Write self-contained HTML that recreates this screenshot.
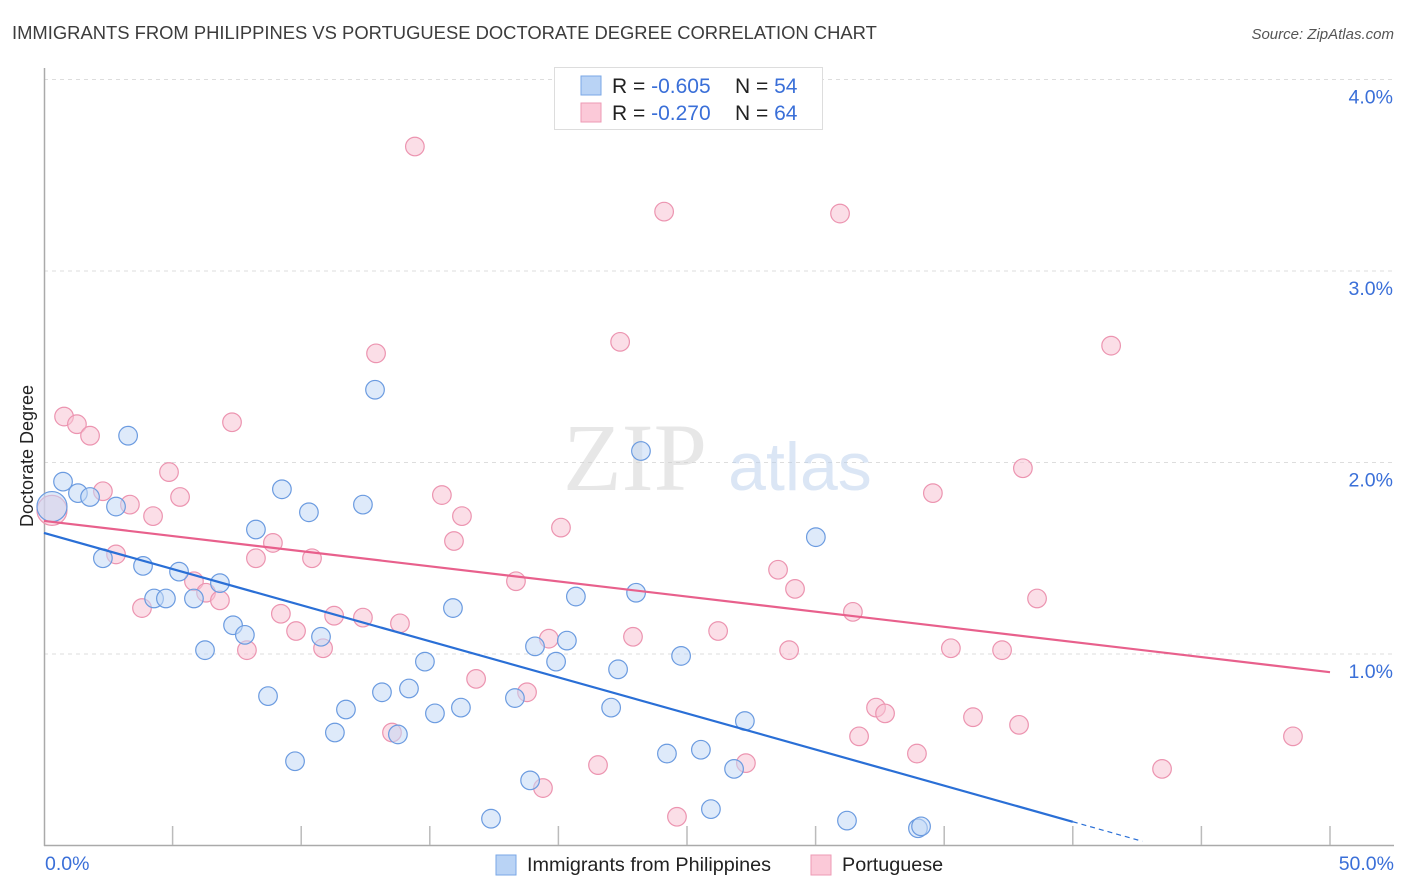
<!DOCTYPE html>
<html><head><meta charset="utf-8"><style>
body{margin:0;background:#fff;font-family:"Liberation Sans",sans-serif}
svg{display:block}
</style></head><body>
<svg id="chart" width="1406" height="892" xmlns="http://www.w3.org/2000/svg">
<text x="12" y="39" font-size="18.4" fill="#3c3c3c">IMMIGRANTS FROM PHILIPPINES VS PORTUGUESE DOCTORATE DEGREE CORRELATION CHART</text>
<text x="1394" y="39" font-size="15" fill="#555" font-style="italic" text-anchor="end">Source: ZipAtlas.com</text>
<g id="grid"></g>
<g opacity="0.5">
<text x="635" y="490" font-size="96" font-family="Liberation Serif,serif" fill="#d0d0d0" text-anchor="middle">ZIP</text>
<text x="800" y="490" font-size="68" fill="#b9cfec" text-anchor="middle">atlas</text>
</g>
<line x1="44.5" y1="68" x2="44.5" y2="846" stroke="#aaa" stroke-width="1.5"/>
<line x1="44" y1="845.5" x2="1394" y2="845.5" stroke="#aaa" stroke-width="1.5"/>
<g id="xticks"></g>
<g id="ylabels"></g>
<text x="45" y="870" font-size="19.5" fill="#3a6fd8">0.0%</text>
<text x="1394" y="870" font-size="19.5" fill="#3a6fd8" text-anchor="end">50.0%</text>
<text transform="translate(33,456) rotate(-90)" font-size="18" fill="#222" text-anchor="middle">Doctorate Degree</text>
<g id="pink"></g>
<g id="blue"></g>
<g id="trends"></g>
<g>
<rect x="554.5" y="67.5" width="268" height="62" fill="#fff" stroke="#ddd"/>
<rect x="581" y="76" width="20" height="19" fill="#b9d3f5" stroke="#7aa7e6"/>
<rect x="581" y="103" width="20" height="19" fill="#fbc9d8" stroke="#ee9ab4"/>
<text x="612" y="93" font-size="21" fill="#222">R = <tspan fill="#3a6fd8">-0.605</tspan></text>
<text x="735" y="93" font-size="21" fill="#222">N = <tspan fill="#3a6fd8">54</tspan></text>
<text x="612" y="120" font-size="21" fill="#222">R = <tspan fill="#3a6fd8">-0.270</tspan></text>
<text x="735" y="120" font-size="21" fill="#222">N = <tspan fill="#3a6fd8">64</tspan></text>
</g>
<g>
<rect x="496" y="855" width="20" height="20" fill="#b9d3f5" stroke="#7aa7e6"/>
<text x="527" y="871" font-size="19.8" fill="#222">Immigrants from Philippines</text>
<rect x="811" y="855" width="20" height="20" fill="#fbc9d8" stroke="#ee9ab4"/>
<text x="842" y="871" font-size="19.8" fill="#222">Portuguese</text>
</g>
</svg>
<script>
const yTicks=[1,2,3,4];
const yTickLabels=["1.0%","2.0%","3.0%","4.0%"];
const xTicks=[5,10,15,20,25,30,35,40,45,50];
const blueX=[0.31,0.74,1.32,1.79,3.27,2.29,2.80,3.85,4.28,4.74,5.25,5.83,6.84,6.26,7.35,7.81,8.24,8.71,9.25,9.76,10.30,10.77,11.31,11.74,12.40,12.87,13.14,13.76,14.19,14.81,15.20,15.90,16.21,17.38,18.31,18.90,19.09,19.91,20.33,20.68,22.05,22.32,23.02,23.21,24.22,24.77,25.54,25.93,26.83,27.25,30.01,31.22,33.98,34.10];
const blueY=[1.77,1.90,1.84,1.82,2.14,1.50,1.77,1.46,1.29,1.29,1.43,1.29,1.37,1.02,1.15,1.10,1.65,0.78,1.86,0.44,1.74,1.09,0.59,0.71,1.78,2.38,0.80,0.58,0.82,0.96,0.69,1.24,0.72,0.14,0.77,0.34,1.04,0.96,1.07,1.30,0.72,0.92,1.32,2.06,0.48,0.99,0.50,0.19,0.40,0.65,1.61,0.13,0.09,0.10];
const pinkX=[0.31,0.78,1.28,1.79,2.29,2.80,3.34,3.81,4.24,4.86,5.29,5.83,6.30,6.84,7.31,7.89,8.24,8.90,9.21,9.80,10.42,10.85,11.28,12.40,12.91,13.53,13.84,14.42,15.47,15.94,16.25,16.80,18.35,18.78,19.40,19.63,20.10,21.54,22.40,22.90,24.11,24.61,26.21,27.29,28.54,28.97,29.20,30.95,31.45,31.69,32.35,32.70,33.94,34.56,35.26,36.12,37.25,37.91,38.06,38.61,41.49,43.47,48.56];
const pinkY=[1.75,2.24,2.20,2.14,1.85,1.52,1.78,1.24,1.72,1.95,1.82,1.38,1.32,1.28,2.21,1.02,1.50,1.58,1.21,1.12,1.50,1.03,1.20,1.19,2.57,0.59,1.16,3.65,1.83,1.59,1.72,0.87,1.38,0.80,0.30,1.08,1.66,0.42,2.63,1.09,3.31,0.15,1.12,0.43,1.44,1.02,1.34,3.30,1.22,0.57,0.72,0.69,0.48,1.84,1.03,0.67,1.02,0.63,1.97,1.29,2.61,0.40,0.57];
const blueTrend=[1.632,-0.0377];
const pinkTrend=[1.695,-0.0158];
const NS="http://www.w3.org/2000/svg";
const X=v=>44+v*25.72;
const Y=v=>845.5-v*191.5;
function mk(tag,attrs,parent){const e=document.createElementNS(NS,tag);for(const k in attrs)e.setAttribute(k,attrs[k]);document.getElementById(parent).appendChild(e);return e;}
yTicks.forEach((t,i)=>{
 const l=mk('line',{x1:44,x2:1394,y1:Y(t),y2:Y(t),stroke:'#ddd','stroke-dasharray':'4,4'},'grid');
 
 
 const tx=mk('text',{x:1393,y:Y(t)+24,'font-size':19.5,fill:'#3a6fd8','text-anchor':'end'},'ylabels');
 tx.textContent=yTickLabels[i];
 
 
});
xTicks.forEach(t=>{
 const l=mk('line',{x1:X(t),x2:X(t),y1:826,y2:845,stroke:'#bbb','stroke-width':1.5},'xticks');
 
 
});
function pts(xs,ys,g,fill,stroke,name){
 xs.forEach((x,i)=>{
  const c=mk('circle',{cx:X(x),cy:Y(ys[i]),r:i<2&&x<0.5?(i==0?15:10.5):9.3,fill:fill,'fill-opacity':0.55,stroke:stroke,'stroke-width':1.2},g);
  
  
 });
}
pts(pinkX,pinkY,'pink','#f8c3d3','#ec94b0','portuguese-point');
pts(blueX,blueY,'blue','#c3d9f6','#6b9be0','philippines-point');
let l=mk('line',{x1:X(0),y1:Y(pinkTrend[0]),x2:X(50),y2:Y(pinkTrend[0]+pinkTrend[1]*50),stroke:'#e8608c','stroke-width':2.2},'trends');


l=mk('line',{x1:X(0),y1:Y(blueTrend[0]),x2:X(40),y2:Y(blueTrend[0]+blueTrend[1]*40),stroke:'#2a6fd6','stroke-width':2.2},'trends');


l=mk('line',{x1:X(40),y1:Y(blueTrend[0]+blueTrend[1]*40),x2:X(42.7),y2:Y(blueTrend[0]+blueTrend[1]*42.7),stroke:'#2a6fd6','stroke-width':1.2,'stroke-dasharray':'5,4'},'trends');


</script>
</body></html>
